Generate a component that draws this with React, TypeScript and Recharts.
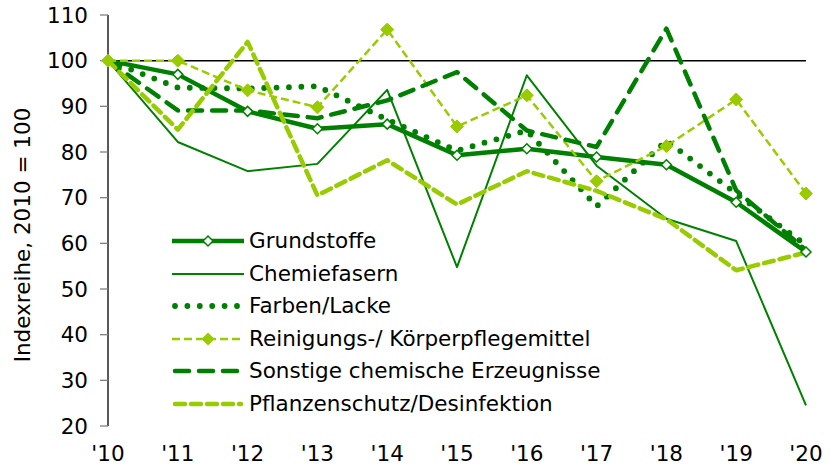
import React from "react";
import { LineChart, Line, XAxis, YAxis, ReferenceLine, Legend } from "recharts";

const years = ["'10", "'11", "'12", "'13", "'14", "'15", "'16", "'17", "'18", "'19", "'20"];
const yTicks = [20, 30, 40, 50, 60, 70, 80, 90, 100, 110];

const grundstoffe = [100, 97, 88.9, 85.1, 86.1, 79.3, 80.7, 78.9, 77.2, 69, 58.1];
const chemiefasern = [100, 82.2, 75.8, 77.4, 93.6, 54.8, 96.8, 77, 65.4, 60.5, 24.5];
const farbenLacke = [100, 94.1, 93.9, 94.4, 87.1, 80.3, 84.7, 68.1, 82.5, 70.9, 59.6];
const reinigung = [100, 100, 93.5, 89.8, 106.8, 85.6, 92.4, 73.6, 81.3, 91.5, 70.9];
const sonstige = [100, 89.1, 89.1, 87.4, 91.3, 97.5, 84.7, 81.1, 107, 71.6, 58.5];
const pflanzenschutz = [100, 84.9, 104.1, 70.5, 78.2, 68.5, 75.8, 71.5, 65.3, 54.1, 58];

const DARK = "#008000";
const LIGHT = "#99CC00";
const FONT = "'DejaVu Sans', Verdana, sans-serif";
const FS = 21.5;

type Series = {
  key: string;
  name: string;
  color: string;
  width: number;
  dash?: string;
  cap?: "round" | "butt";
  marker?: "hollow" | "filled";
};

const series: Series[] = [
  { key: "g", name: "Grundstoffe", color: DARK, width: 4.5, marker: "hollow" },
  { key: "c", name: "Chemiefasern", color: DARK, width: 2 },
  { key: "f", name: "Farben/Lacke", color: DARK, width: 5.8, dash: "0 12.4", cap: "round" },
  { key: "r", name: "Reinigungs-/ Körperpflegemittel", color: LIGHT, width: 2.5, dash: "8 4", marker: "filled" },
  { key: "s", name: "Sonstige chemische Erzeugnisse", color: DARK, width: 4.5, dash: "14 10", cap: "round" },
  { key: "p", name: "Pflanzenschutz/Desinfektion", color: LIGHT, width: 4.5, dash: "10 6", cap: "round" },
];

const data = years.map((year, i) => ({
  year,
  g: grundstoffe[i],
  c: chemiefasern[i],
  f: farbenLacke[i],
  r: reinigung[i],
  s: sonstige[i],
  p: pflanzenschutz[i],
}));

function diamondPath(cx: number, cy: number, r: number) {
  return `M${cx},${cy - r} L${cx + r},${cy} L${cx},${cy + r} L${cx - r},${cy} Z`;
}

const makeDot = (s: Series) => (props: any) => {
  const { cx, cy, index } = props;
  if (cx == null || cy == null) return <g key={index} />;
  if (s.marker === "hollow") {
    return <path key={index} d={diamondPath(cx, cy, 5)} fill="#fff" stroke={s.color} strokeWidth={1.5} />;
  }
  return <path key={index} d={diamondPath(cx, cy, 6.5)} fill={s.color} stroke={s.color} strokeWidth={1} />;
};

const LegendContent = () => (
  <div style={{ fontFamily: FONT, fontSize: FS, color: "#000" }}>
    {series.map((s) => (
      <div key={s.key} style={{ display: "flex", alignItems: "center", height: 32.5 }}>
        <svg width={72} height={20} style={{ display: "block" }}>
          <line
            x1={s.cap === "round" ? 3 : 0}
            y1={10}
            x2={s.cap === "round" ? 69 : 72}
            y2={10}
            stroke={s.color}
            strokeWidth={s.width}
            strokeDasharray={s.dash}
            strokeLinecap={s.cap || "butt"}
          />
          {s.marker === "hollow" && <path d={diamondPath(36, 10, 5)} fill="#fff" stroke={s.color} strokeWidth={1.5} />}
          {s.marker === "filled" && <path d={diamondPath(36, 10, 6.5)} fill={s.color} />}
        </svg>
        <span style={{ marginLeft: 5, whiteSpace: "nowrap", lineHeight: "32.5px" }}>{s.name}</span>
      </div>
    ))}
  </div>
);

export default function App() {
  return (
    <div style={{ position: "absolute", left: 0, top: 0, width: 830, height: 468, background: "#fff" }}>
      <LineChart width={830} height={468} data={data} margin={{ top: 15, right: 24, bottom: 0, left: 0 }}>
        <XAxis
          dataKey="year"
          axisLine={false}
          tickLine={false}
          tickSize={0}
          tickMargin={20}
          height={42}
          interval={0}
          tick={{ fontFamily: FONT, fontSize: FS, fill: "#000" }}
        />
        <YAxis
          domain={[20, 110]}
          ticks={yTicks}
          interval={0}
          width={108}
          axisLine={{ stroke: "#000", strokeWidth: 1.3 }}
          tickLine={{ stroke: "#808080", strokeWidth: 1.3 }}
          tickSize={8}
          tickMargin={12}
          tick={{ fontFamily: FONT, fontSize: FS, fill: "#000" }}
          label={{
            content: () => (
              <text
                x={22}
                y={235}
                transform="rotate(-90 22 235)"
                textAnchor="middle"
                dominantBaseline="central"
                fontFamily={FONT}
                fontSize={FS}
                fill="#000"
              >
                Indexreihe, 2010 = 100
              </text>
            ),
          }}
        />
        <ReferenceLine y={100} stroke="#000" strokeWidth={1.5} />
        {series.map((s) => (
          <Line
            key={s.key}
            dataKey={s.key}
            name={s.name}
            type="linear"
            stroke={s.color}
            strokeWidth={s.width}
            strokeDasharray={s.dash}
            strokeLinecap={s.cap || "butt"}
            strokeLinejoin="round"
            dot={s.marker ? makeDot(s) : false}
            activeDot={false}
            isAnimationActive={false}
          />
        ))}
        <Legend
          layout="vertical"
          align="center"
          verticalAlign="middle"
          content={<LegendContent />}
          wrapperStyle={{ position: "absolute", left: 172, top: 225, width: 470, height: 200 }}
        />
      </LineChart>
    </div>
  );
}
